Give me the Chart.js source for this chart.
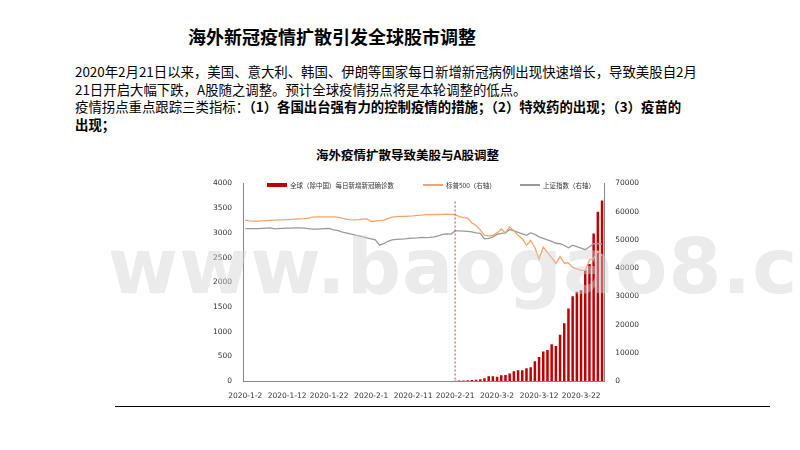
<!DOCTYPE html>
<html><head><meta charset="utf-8">
<script src="https://cdn.jsdelivr.net/npm/chart.js@4"></script>
<style>
body{margin:0;width:800px;height:450px;background:#fff;position:relative;font-family:"Noto Sans CJK SC",sans-serif;overflow:hidden}
.t{position:absolute;white-space:nowrap;color:#000}
.lg{position:absolute;top:180px;font-size:6.5px;color:#333;white-space:nowrap;display:flex;align-items:center;z-index:3}
.lg i{display:inline-block;width:20px;margin-right:3px}
#wm{position:absolute;left:108px;top:222px;font-family:"DejaVu Sans",sans-serif;font-size:76px;font-weight:bold;color:rgba(210,210,210,0.45);letter-spacing:1px;z-index:5}
</style></head><body>
<div class="t" style="left:188px;top:23px;font-size:18px;font-weight:bold">海外新冠疫情扩散引发全球股市调整</div>
<div class="t" style="left:75px;top:63px;font-size:13.4px;line-height:17.7px">2020年2月21日以来，美国、意大利、韩国、伊朗等国家每日新增新冠病例出现快速增长，导致美股自2月<br>21日开启大幅下跌，A股随之调整。预计全球疫情拐点将是本轮调整的低点。<br>疫情拐点重点跟踪三类指标：<b>（1）各国出台强有力的控制疫情的措施；（2）特效药的出现；（3）疫苗的</b><br><b>出现；</b></div>
<div class="t" style="left:316px;top:145px;font-size:12.5px;font-weight:bold">海外疫情扩散导致美股与A股调整</div>
<div style="position:absolute;left:115px;top:406px;width:655px;height:1px;background:#000"></div>
<div style="position:absolute;left:210px;top:176px;width:432px;height:228px"><canvas id="c"></canvas></div>
<div id="legend"></div>
<div id="wm">www.baogao8.com</div>
<script>
const dates=[];
for(let d=2;d<=31;d++)dates.push('2020-1-'+d);
for(let d=1;d<=29;d++)dates.push('2020-2-'+d);
for(let d=1;d<=27;d++)dates.push('2020-3-'+d);
const sp500=[3258,3245,3240,3240,3245,3250,3255,3260,3262,3265,3270,3275,3280,3285,3290,3300,3320,3325,3325,3325,3325,3325,3320,3300,3280,3270,3265,3270,3280,3285,
3230,3240,3250,3260,3290,3320,3330,3335,3335,3340,3345,3355,3360,3370,3370,3370,3372,3375,3380,3375,3370,3330,3310,3300,3200,3150,3060,2950,2940,
2950,3000,3080,3000,3120,3040,2950,2880,2750,2850,2700,2470,2710,2600,2500,2380,2520,2390,2390,2300,2270,2240,2240,2450,2480,2630,2540];
const shanghai=[3085,3085,3085,3085,3090,3095,3100,3080,3085,3090,3095,3095,3100,3100,3095,3085,3075,3075,3080,3085,3090,3060,3050,3020,3000,2980,2960,2940,2920,2900,
2880,2860,2750,2780,2830,2860,2870,2875,2880,2890,2895,2900,2910,2905,2910,2920,2940,2970,2980,2975,3040,3040,3035,3030,3020,3000,2990,2880,2890,
2920,2970,2990,3000,3070,3040,3010,2980,2950,3000,2970,2920,2890,2860,2830,2790,2780,2750,2700,2750,2720,2690,2660,2720,2780,2780,2770];
const cases=new Array(50).fill(null).concat([100,150,200,300,350,450,
600,1000,1700,1700,1500,2000,2100,2700,3500,3800,3800,4500,4900,7000,8500,10500,11000,13000,12400,16400,20500,25700,30000,31600,32200,39300,41500,52300,60000,64000]);
const seriesNames=['全球（除中国）每日新增新冠确诊数','标普500（右轴）','上证指数（右轴）'];
const marker='2020-2-21';
const colors=['#c00000','#f4a46a','#999999'];
const lgX=[267,423,520];
document.getElementById('legend').innerHTML=seriesNames.map((n,i)=>`<div class="lg" style="left:${lgX[i]}px"><i style="height:${i===0?4:1.5}px;background:${colors[i]}"></i>${n}</div>`).join('');
const vline={id:'vline',afterDatasetsDraw(ch){const x=ch.scales.x.getPixelForValue(dates.indexOf(marker));const a=ch.chartArea;const c=ch.ctx;c.save();c.strokeStyle='#d04040';c.lineWidth=1;c.setLineDash([2,2]);c.beginPath();c.moveTo(x,a.top+18);c.lineTo(x,a.bottom);c.stroke();c.restore();}};
const f={family:'"DejaVu Sans",sans-serif',size:7.5};
new Chart(document.getElementById('c'),{
 data:{labels:dates,datasets:[
  {type:'bar',label:seriesNames[0],data:cases,yAxisID:'y1',backgroundColor:colors[0],barPercentage:0.6,categoryPercentage:1,order:3},
  {type:'line',label:seriesNames[1],data:sp500,yAxisID:'y',borderColor:colors[1],borderWidth:1.3,pointRadius:0,order:1},
  {type:'line',label:seriesNames[2],data:shanghai,yAxisID:'y',borderColor:colors[2],borderWidth:1.3,pointRadius:0,order:2}]},
 options:{responsive:true,maintainAspectRatio:false,animation:false,
  layout:{padding:{top:6}},
  plugins:{legend:{display:false},tooltip:{enabled:false}},
  scales:{
   x:{grid:{display:false},border:{color:'#888'},ticks:{autoSkip:false,maxRotation:0,font:f,color:'#333',callback:(v,i)=>i%10===0?dates[i]:null}},
   y:{position:'left',min:0,max:4000,ticks:{stepSize:500,font:f,color:'#333',callback:v=>String(v)},grid:{display:false},border:{color:'#888'}},
   y1:{position:'right',min:0,max:70000,ticks:{stepSize:10000,font:f,color:'#333',callback:v=>String(v)},grid:{display:false},border:{color:'#888'}}
  }},
 plugins:[vline]});
</script></body></html>
